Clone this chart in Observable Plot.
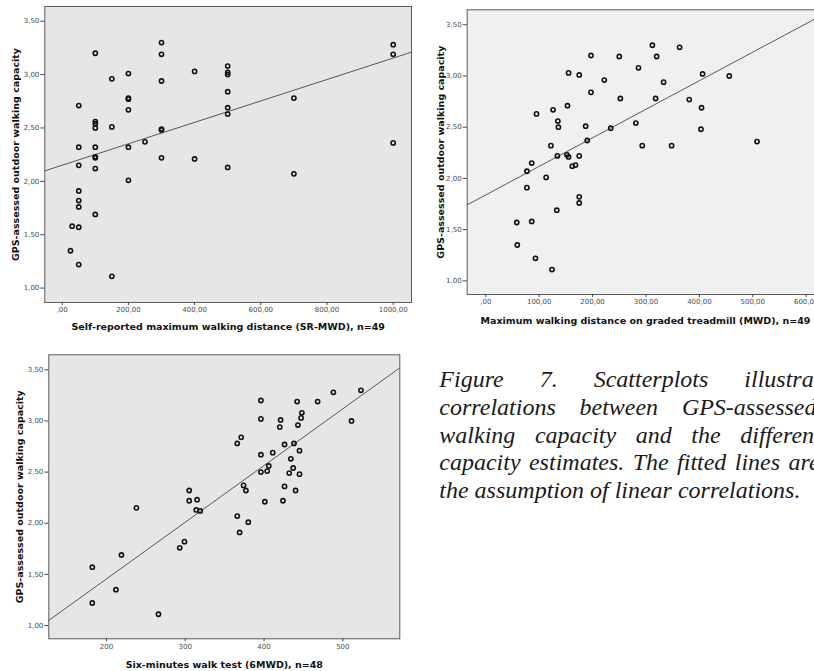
<!DOCTYPE html>
<html>
<head>
<meta charset="utf-8">
<script src="https://cdn.jsdelivr.net/npm/d3@7"></script>
<script src="https://cdn.jsdelivr.net/npm/@observablehq/plot@0.6"></script>
<style>
  html, body { margin: 0; padding: 0; background: #fff; overflow: hidden; width: 814px; height: 671px; }
  #root { position: relative; width: 814px; height: 671px; overflow: hidden; }
  .panel { position: absolute; }
  .panel svg { max-width: none !important; display: block; }
  .caption { position: absolute; left: 439.3px; top: 366.4px; width: 477px;
    font-family: "Liberation Serif", "Times New Roman", serif; font-style: italic;
    font-size: 24px; line-height: 27.6px; color: #1a1a1a; }
  .caption .j { text-align: justify; text-align-last: justify; }
</style>
</head>
<body>
<div id="root"></div>
<script>
// ---- Data ----
const yLabel = "GPS-assessed outdoor walking capacity";

// Panel 1: self-reported maximum walking distance
const srmwd = [100,300,300,1000,1000,150,200,300,400,500,500,500,500,500,500,50,200,200,200,700,100,100,100,150,300,300,250,1000,50,100,200,100,100,300,400,50,100,500,700,200,50,50,50,100,30,50,25,50,150];
const gps1  = [3.20,3.30,3.19,3.28,3.19,2.96,3.01,2.94,3.03,3.08,3.02,3.00,2.84,2.69,2.63,2.71,2.78,2.77,2.67,2.78,2.56,2.54,2.50,2.51,2.49,2.48,2.37,2.36,2.32,2.32,2.32,2.23,2.22,2.22,2.21,2.15,2.12,2.13,2.07,2.01,1.91,1.82,1.76,1.69,1.58,1.57,1.35,1.22,1.11];
const xLabel1 = "Self-reported maximum walking distance (SR-MWD), n=49";
const xTicks1 = [0,200,400,600,800,1000];

// Panel 2: maximum walking distance on graded treadmill
const mwd  = [312,363,197,250,320,286,155,175,406,456,222,333,197,252,318,381,153,404,126,95,135,136,187,281,234,403,190,508,122,293,348,134,152,155,175,162,168,86,77,113,77,175,175,133,58,86,59,93,124];
const gps2 = [3.30,3.28,3.20,3.19,3.19,3.08,3.03,3.01,3.02,3.00,2.96,2.94,2.84,2.78,2.78,2.77,2.71,2.69,2.67,2.63,2.56,2.50,2.51,2.54,2.49,2.48,2.37,2.36,2.32,2.32,2.32,2.22,2.23,2.21,2.22,2.12,2.13,2.15,2.07,2.01,1.91,1.82,1.76,1.69,1.57,1.58,1.35,1.22,1.11];
const xLabel2 = "Maximum walking distance on graded treadmill (MWD), n=49";
const xTicks2 = [0,100,200,300,400,500,600];

// Panel 3: six-minutes walk test
const sixmwd = [523,488,396,442,468,448,447,396,421,511,443,420,371,366,438,426,445,411,396,434,406,437,404,396,432,445,374,426,305,377,440,315,305,424,401,238,314,319,366,380,369,299,293,219,182,212,182,266];
const gps3   = [3.30,3.28,3.20,3.19,3.19,3.08,3.03,3.02,3.01,3.00,2.96,2.94,2.84,2.78,2.78,2.77,2.71,2.69,2.67,2.63,2.56,2.54,2.51,2.50,2.49,2.48,2.37,2.36,2.32,2.32,2.32,2.23,2.22,2.22,2.21,2.15,2.13,2.12,2.07,2.01,1.91,1.82,1.76,1.69,1.57,1.35,1.22,1.11];
const xLabel3 = "Six-minutes walk test (6MWD), n=48";
const xTicks3 = [200,300,400,500];

const yTicks = [1.0,1.5,2.0,2.5,3.0,3.5];

const captionLines = [
  "Figure 7. Scatterplots illustrating the",
  "correlations between GPS-assessed outdoor",
  "walking capacity and the different walking",
  "capacity estimates. The fitted lines are based on",
  "the assumption of linear correlations."
];

// ---- Helpers ----
const comma2 = d => d === 0 ? ",00" : d.toFixed(2).replace(".", ",");
const plain = d => String(d);

function ols(xs, ys) {
  const mx = d3.mean(xs), my = d3.mean(ys);
  let sxy = 0, sxx = 0;
  xs.forEach((x, i) => { sxy += (x - mx) * (ys[i] - my); sxx += (x - mx) ** 2; });
  const b = sxy / sxx;
  return [my - b * mx, b];
}

function panel(o) {
  const data = o.x.map((v, i) => ({x: v, y: o.y[i]}));
  const [a, b] = ols(o.x, o.y);
  const fit = o.xDomain.map(v => ({x: v, y: a + b * v}));
  return Plot.plot({
    width: o.width, height: o.height,
    marginLeft: o.m[3], marginTop: o.m[0], marginRight: o.m[1], marginBottom: o.m[2],
    x: {domain: o.xDomain},
    y: {domain: o.yDomain},
    style: {fontFamily: "DejaVu Sans", fontSize: "7px", color: "#4a4a4a", background: "transparent", overflow: "visible", maxWidth: "none"},
    marks: [
      Plot.frame({fill: o.fill, stroke: "#5a5a5a"}),
      Plot.axisX({ticks: o.xTicks, tickFormat: o.xFormat, tickSize: 3, tickPadding: 2, label: null, stroke: "#444"}),
      Plot.axisY({ticks: yTicks, tickFormat: comma2, tickSize: 4, tickPadding: 1.5, label: null, stroke: "#444"}),
      Plot.line(fit, {x: "x", y: "y", stroke: "#333", strokeWidth: 0.8, clip: true}),
      Plot.dot(data, {x: "x", y: "y", r: 2.1, stroke: "#111", strokeWidth: 1.6, fill: "none"}),
      Plot.text([o.xLabel], {text: d => d, frameAnchor: "bottom", dy: o.xLabelDy, lineAnchor: "middle",
        textAnchor: "middle", fontWeight: "bold", fontSize: 9.5, fill: "#111"}),
      Plot.text([yLabel], {text: d => d, frameAnchor: "left", dx: -o.yLabelDx, rotate: -90, lineAnchor: "middle",
        textAnchor: "middle", fontWeight: "bold", fontSize: 9.5, fill: "#111"})
    ]
  });
}

const root = document.getElementById("root");
function place(el, left, top, w, h) {
  const d = document.createElement("div");
  d.className = "panel";
  d.style.left = left + "px";
  d.style.top = top + "px";
  d.style.width = w + "px";
  d.style.height = h + "px";
  d.appendChild(el);
  root.appendChild(d);
}

place(panel({
  x: srmwd, y: gps1, xDomain: [-52.6, 1055.3], yDomain: [0.865, 3.638],
  width: 425, height: 340, m: [6, 14, 38, 44.3], fill: "#e6e6e6",
  xTicks: xTicks1, xFormat: comma2, xLabel: xLabel1, xLabelDy: 24.7, yLabelDx: 29.3
}), 0, 0, 425, 340);

place(panel({
  x: mwd, y: gps2, xDomain: [-34.8, 633], yDomain: [0.867, 3.646],
  width: 420, height: 330, m: [9.3, 6.7, 36, 56.7], fill: "#eff0f0",
  xTicks: xTicks2, xFormat: comma2, xLabel: xLabel2, xLabelDy: 26, yLabelDx: 26.7
}), 410, 0, 420, 330);

place(panel({
  x: sixmwd, y: gps3, xDomain: [126.8, 572.3], yDomain: [0.870, 3.647],
  width: 410, height: 341, m: [24.3, 10.7, 32.7, 48.3], fill: "#e6e6e6",
  xTicks: xTicks3, xFormat: plain, xLabel: xLabel3, xLabelDy: 25.7, yLabelDx: 29.3
}), 0, 330, 410, 341);

const cap = document.createElement("div");
cap.className = "caption";
captionLines.forEach((t, i) => {
  const l = document.createElement("div");
  if (i < captionLines.length - 1) l.className = "j";
  l.textContent = t;
  cap.appendChild(l);
});
root.appendChild(cap);
</script>
</body>
</html>
